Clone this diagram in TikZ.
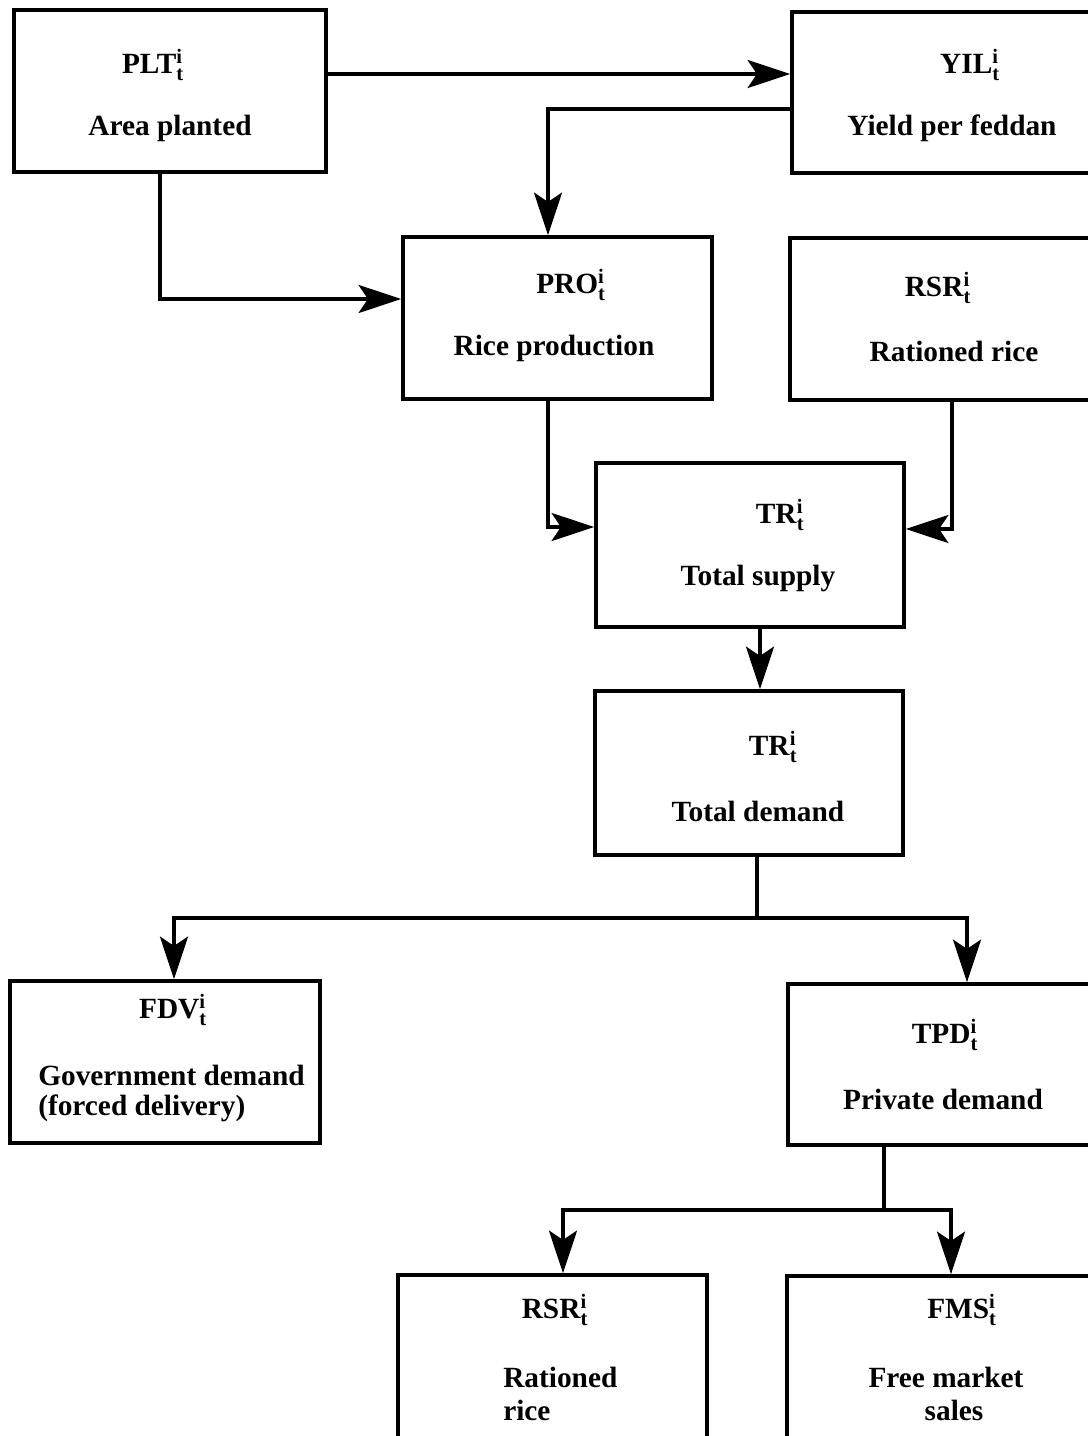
\documentclass[tikz,border=0pt]{standalone}
\usepackage{amsmath}
\usepackage{fontspec}
\setmainfont{Liberation Serif}
\usetikzlibrary{arrows.meta,fit}
\newcommand{\vn}[1]{\textbf{#1}$^{\text{i}}_{\text{t}}$}
\begin{document}
\begin{tikzpicture}[x=0.75pt,y=-0.75pt,
  box/.style={draw, line width=2.6pt, inner sep=0pt},
  lbl/.style={font=\bfseries\fontsize{22}{25}\selectfont, inner sep=0pt},
  ln/.style={line width=2.6pt},
  arr/.style={line width=2.6pt, -{Stealth[length=32pt,width=21pt,inset=7pt]}}]
\useasboundingbox (0,0) rectangle (1088,1436);
\clip (0,0) rectangle (1088,1436);
% boxes
\node[box, fit={(14,10) (326,172)}] (plt) {};
\node[box, fit={(792,12) (1100,173)}] (yil) {};
\node[box, fit={(403,237) (712,399)}] (pro) {};
\node[box, fit={(790,238) (1100,400)}] (rsra) {};
\node[box, fit={(596,463) (904,627)}] (ts) {};
\node[box, fit={(595,691) (903,855)}] (td) {};
\node[box, fit={(10,981) (320,1143)}] (fdv) {};
\node[box, fit={(788,984) (1100,1145)}] (tpd) {};
\node[box, fit={(398,1275) (707,1460)}] (rsrb) {};
\node[box, fit={(787,1276) (1100,1460)}] (fms) {};
% labels
\node[lbl] (pltv) at (153,65) {\vn{PLT}};
\node[lbl] (pltt) at (170,128) {Area planted};
\node[lbl] (yilv) at (970,65) {\vn{YIL}};
\node[lbl] (yilt) at (952,128) {Yield per feddan};
\node[lbl] (prov) at (571,285) {\vn{PRO}};
\node[lbl] (prot) at (554,348) {Rice production};
\node[lbl] (rsrav) at (938,288) {\vn{RSR}};
\node[lbl] (rsrat) at (954,351) {Rationed rice};
\node[lbl] (tsv) at (780,515) {\vn{TR}};
\node[lbl] (tst) at (758,578) {Total supply};
\node[lbl] (tdv) at (773,747) {\vn{TR}};
\node[lbl] (tdt) at (758,811) {Total demand};
\node[lbl] (fdvv) at (173,1010) {\vn{FDV}};
\node[lbl, anchor=west] (fdvt1) at (38,1075) {Government demand};
\node[lbl, anchor=west] (fdvt2) at (38,1108) {(forced delivery)};
\node[lbl] (tpdv) at (945,1035) {\vn{TPD}};
\node[lbl] (tpdt) at (943,1099) {Private demand};
\node[lbl] (rsrbv) at (555,1310) {\vn{RSR}};
\node[lbl, anchor=west] (rsrbt1) at (503,1377) {Rationed};
\node[lbl, anchor=west] (rsrbt2) at (503,1410) {rice};
\node[lbl] (fmsv) at (962,1310) {\vn{FMS}};
\node[lbl] (fmst1) at (946,1377) {Free market};
\node[lbl] (fmst2) at (954,1410) {sales};
% connectors
\draw[arr] (plt.east |- 0,74) -- (yil.west |- 0,74);
\draw[arr] (yil.west |- 0,109) -| (pro.north -| 548,0);
\draw[arr] (plt.south -| 160,0) |- (pro.west |- 0,299);
\draw[arr] (pro.south -| 548,0) |- (ts.west |- 0,527);
\draw[arr] (rsra.south -| 952,0) |- (ts.east |- 0,529);
\draw[arr] (ts.south -| 760,0) -- (td.north -| 760,0);
\coordinate (j1) at (757,918);
\draw[ln] (td.south -| j1) -- (j1);
\draw[arr] (j1) -| (fdv.north -| 174,0);
\draw[arr] (j1) -| (tpd.north -| 967,0);
\coordinate (j2) at (884,1210);
\draw[ln] (tpd.south -| j2) -- (j2);
\draw[arr] (j2) -| (rsrb.north -| 563,0);
\draw[arr] (j2) -| (fms.north -| 951,0);
\end{tikzpicture}
\end{document}
